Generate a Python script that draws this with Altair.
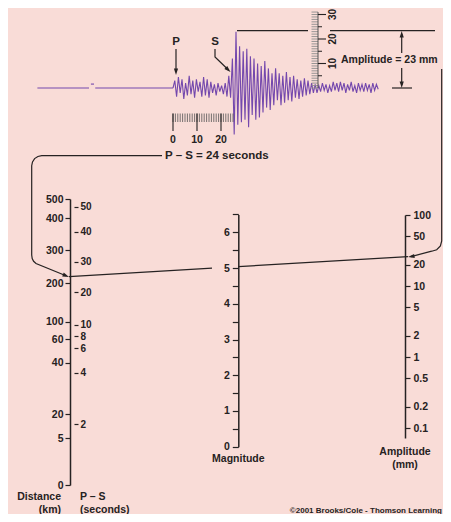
import altair as alt
import pandas as pd

# ---------------------------------------------------------------- data
# seismogram: sampling interval (s) and ground motion (mm) from the P arrival on
trace_dt = 0.75
trace_mm = [0, 3, -3.5, 4.5, -2, 3.5, -4.5, 2, -3, 5, -2.5, 3, -4, 3.5, -1.5, 2.5, -3.5, 4.5, -3, 3.5,
            -4, 2.5, -2, 1.5, -3, 2, -1.5, 1, -2.5, 2, -3.5, 5, -4, 12, -19, 23, -15, 17, -14, 15,
            -13, 16, -16, 13, -11, 12, -13, 10, -12, 9, -10, 11, -8, 8, -9, 6, -7, 8, -5, 6,
            -7, 5, -6, 6.5, -5, 4.5, -5.5, 5, -4, 3.5, -4.5, 3, -3.5, 4, -3, 3, -2.5, 2, -2, 1.5,
            -2, 1, -1.5, 2, -1, 1.5, -2, 1, -1.5, 2.5, -1, 2, -1.5, 2.5, -1, 2, -2, 1.5, -1, 2.5,
            -1.5, 1, -2, 2, -1, 1.5, -1.5, 2, -1, 1.5, -2, 2, -1, 1.5, -0.5]
# quiet trace before the P arrival (start s, end s, level mm)
quiet_start = [-56.5, -34.2, -32.4]
quiet_end = [-35.0, -32.9, 0.0]
quiet_mm = [0.0, 1.6, 0.0]

# rulers drawn on the record
time_ruler_s = list(range(0, 26))
time_ruler_major = [0, 10, 20]
amp_ruler_mm = list(range(0, 32))
amp_ruler_mid = [5, 15, 25]
amp_ruler_major = [10, 20, 30]

# nomogram scales (value -> where it is printed on the picture)
dist_km = [0, 5, 20, 40, 60, 100, 200, 300, 400, 500]
dist_at = [485, 438.3, 414.3, 362.7, 339.3, 321.7, 283.3, 250, 218.3, 199]
ps_sec = [2, 4, 6, 8, 10, 20, 30, 40, 50]
ps_at = [424.3, 372.7, 348, 336.2, 324.5, 292.3, 261.7, 231.7, 206.7]
mag_ticks = [0, 0.5, 1, 1.5, 2, 2.5, 3, 3.5, 4, 4.5, 5, 5.5, 6, 6.5]
amp_ticks = [0.1, 0.2, 0.5, 1, 2, 5, 10, 20, 50, 100]

labels = {
    "p": "P", "s": "S",
    "amp": "Amplitude = 23 mm",
    "ps": "P \u2013 S = 24 seconds",
    "dist1": "Distance", "dist2": "(km)",
    "pst1": "P \u2013 S", "pst2": "(seconds)",
    "mag": "Magnitude",
    "ampt1": "Amplitude", "ampt2": "(mm)",
    "copy": "\u00a92001 Brooks/Cole - Thomson Learning",
}

# ---------------------------------------------------------------- layout
OX, OY = 8, 8
W, H = 435, 506
FONT = "Liberation Sans"
INK = "#262222"
TRACE = "#7448ad"
BG = "#f9dcd7"
T0, PX_S = 173, 2.4          # time scale of the record
BASE, PX_MM = 88, 2.45       # amplitude scale of the record


def sx():
    return alt.Scale(domain=[OX, OX + W], range=[0, W], nice=False, zero=False)


def sy():
    return alt.Scale(domain=[OY, OY + H], range=[0, H], nice=False, zero=False)


def st():
    return alt.Scale(domain=[0, 100], range=[T0 - OX, T0 + 100 * PX_S - OX], nice=False, zero=False)


def smm():
    return alt.Scale(domain=[0, 30], range=[BASE - OY, BASE - 30 * PX_MM - OY], nice=False, zero=False)


def note(txt, x, y, size=10.5, align="center", angle=0):
    return alt.Chart(pd.DataFrame({"label": [txt]})).mark_text(
        font=FONT, fontWeight="bold", fontSize=size, color=INK, align=align,
        baseline="middle", angle=angle).encode(
        x=alt.value(x - OX), y=alt.value(y - OY), text="label:N")


def axis(orient, at_x, values, tick=5, pad=2, domain=True, fmt=None, expr=None, size=10.5):
    off = -(at_x - OX) if orient == "left" else (at_x - OX) - W
    kw = dict(orient=orient, offset=off, values=values, title=None, grid=False,
              domain=domain, domainColor=INK, domainWidth=1.5,
              tickColor=INK, tickWidth=1.2, tickSize=tick,
              labelFont=FONT, labelFontWeight="bold", labelFontSize=size,
              labelColor=INK, labelPadding=pad, labelOverlap=False,
              labelBound=False, labelFlush=False)
    if fmt:
        kw["format"] = fmt
    if expr:
        kw["labelExpr"] = expr
    return alt.Axis(**kw)


layers = []

# ---- seismogram
rows = []
for i, (a, b, m) in enumerate(zip(quiet_start, quiet_end, quiet_mm)):
    rows += [dict(seg=f"q{i}", t=a, mm=m), dict(seg=f"q{i}", t=b, mm=m)]
rows += [dict(seg="trace", t=round(i * trace_dt, 3), mm=v) for i, v in enumerate(trace_mm)]
layers.append(alt.Chart(pd.DataFrame(rows)).mark_line(color=TRACE, strokeWidth=1.1).encode(
    x=alt.X("t:Q", scale=st(), axis=None),
    y=alt.Y("mm:Q", scale=smm(), axis=None),
    detail="seg:N", order="t:Q"))

# ---- time ruler
layers.append(alt.Chart(pd.DataFrame({"s": time_ruler_s})).mark_rule(color="#555", strokeWidth=0.8).encode(
    x=alt.X("s:Q", scale=st(), axis=None), y=alt.value(113.5 - OY), y2=alt.value(122 - OY)))
layers.append(alt.Chart(pd.DataFrame({"s": time_ruler_major})).mark_rule(color=INK, strokeWidth=1.1).encode(
    x=alt.X("s:Q", scale=st(), axis=None), y=alt.value(113.5 - OY), y2=alt.value(131 - OY)))
layers.append(alt.Chart(pd.DataFrame({"s": time_ruler_major})).mark_text(
    font=FONT, fontWeight="bold", fontSize=10.5, color=INK, baseline="middle").encode(
    x=alt.X("s:Q", scale=st(), axis=None), y=alt.value(140 - OY), text="s:Q"))

# ---- amplitude ruler
layers.append(alt.Chart(pd.DataFrame({"mm": amp_ruler_mm})).mark_rule(color="#8c8c8c", strokeWidth=0.9).encode(
    y=alt.Y("mm:Q", scale=smm(), axis=None), x=alt.value(311.5 - OX), x2=alt.value(318 - OX)))
layers.append(alt.Chart(pd.DataFrame({"lo": [0], "hi": [31]})).mark_rule(color="#555", strokeWidth=1).encode(
    y=alt.Y("lo:Q", scale=smm(), axis=None), y2="hi:Q", x=alt.value(318 - OX)))
layers.append(alt.Chart(pd.DataFrame({"mm": amp_ruler_mid})).mark_rule(color=INK, strokeWidth=1).encode(
    y=alt.Y("mm:Q", scale=smm(), axis=None), x=alt.value(318 - OX), x2=alt.value(322 - OX)))
layers.append(alt.Chart(pd.DataFrame({"mm": amp_ruler_major})).mark_rule(color=INK, strokeWidth=1.1).encode(
    y=alt.Y("mm:Q", scale=smm(), axis=None), x=alt.value(318 - OX), x2=alt.value(326 - OX)))
layers.append(alt.Chart(pd.DataFrame({"mm": amp_ruler_major})).mark_text(
    font=FONT, fontWeight="bold", fontSize=10, color=INK, baseline="middle", angle=270).encode(
    y=alt.Y("mm:Q", scale=smm(), axis=None), x=alt.value(333 - OX), text="mm:Q"))

# ---- nomogram axes
layers.append(alt.Chart(pd.DataFrame({"d": dist_km})).mark_tick(opacity=0).encode(
    y=alt.Y("d:Q", scale=alt.Scale(domain=dist_km, range=[p - OY for p in dist_at], nice=False, zero=False),
            axis=axis("left", 70, dist_km, tick=5, pad=2))))
layers.append(alt.Chart(pd.DataFrame({"p": ps_sec})).mark_tick(opacity=0).encode(
    y=alt.Y("p:Q", scale=alt.Scale(domain=ps_sec, range=[p - OY for p in ps_at], nice=False, zero=False),
            axis=axis("right", 74, ps_sec, tick=4, pad=2, domain=False, size=10))))
layers.append(alt.Chart(pd.DataFrame({"m": mag_ticks})).mark_tick(opacity=0).encode(
    y=alt.Y("m:Q", scale=alt.Scale(domain=[0, 6.5], range=[446.7 - OY, 446.7 - 6.5 * 35.73 - OY],
                                   nice=False, zero=False),
            axis=axis("left", 238.3, mag_ticks, tick=6, pad=3,
                      expr="datum.value % 1 == 0 ? format(datum.value, 'd') : ''"))))
layers.append(alt.Chart(pd.DataFrame({"a": amp_ticks})).mark_tick(opacity=0).encode(
    y=alt.Y("a:Q", scale=alt.Scale(type="log", domain=[0.0724, 100], range=[438 - OY, 215 - OY],
                                   nice=False, zero=False),
            axis=axis("right", 405, amp_ticks, tick=5, pad=3, fmt="~g"))))

# ---- annotation lines
paths = {
    "p": [(176, 49), (176, 71)],
    "s": [(215, 49), (215, 57), (228.5, 70)],
    "top1": [(237, 30.7), (308, 30.7)],
    "top2": [(330, 30.7), (435, 30.7)],
    "bot": [(392, 88), (412, 88)],
    "up": [(401.7, 34), (401.7, 53)],
    "dn": [(401.7, 68), (401.7, 85)],
    "amplead": [(441.7, 69), (441.7, 241), (440.4, 246), (436.7, 249.7), (431.7, 251.2), (411, 256.6)],
    "pslead": [(162, 155.7), (41.7, 155.7), (37.9, 156.5), (34.6, 158.6), (32.5, 161.9), (31.7, 165.7),
               (31.7, 255), (32.2, 258.5), (33.6, 261.3), (36, 263.5), (66, 275.7)],
    "nomo1": [(69, 276.6), (212, 268.2)],
    "nomo2": [(238.3, 266.6), (408, 256.7)],
}
prow = []
for name, pts in paths.items():
    for k, (x, y) in enumerate(pts):
        prow.append(dict(path=name, k=k, x=x, y=y))
layers.append(alt.Chart(pd.DataFrame(prow)).mark_line(color=INK, strokeWidth=1.2).encode(
    x=alt.X("x:Q", scale=sx(), axis=None), y=alt.Y("y:Q", scale=sy(), axis=None),
    detail="path:N", order="k:Q"))

ARROW = "M0,0L-0.32,1L0.32,1Z"
heads = pd.DataFrame({
    "x": [176, 230.5, 401.7, 401.7, 69, 408],
    "y": [75, 72, 31, 88, 277, 257],
    "ang": [180, 134, 0, 180, 112, 261],
})
layers.append(alt.Chart(heads).mark_point(shape=ARROW, filled=True, size=170, color=INK, opacity=1).encode(
    x=alt.X("x:Q", scale=sx(), axis=None), y=alt.Y("y:Q", scale=sy(), axis=None),
    angle=alt.Angle("ang:Q", scale=None)))

# ---- texts
layers += [
    note(labels["p"], 176, 42, 11.5),
    note(labels["s"], 215, 42, 11.5),
    note(labels["amp"], 341, 60, 10.5, "left"),
    note(labels["ps"], 165, 155.5, 11.5, "left"),
    note(labels["dist1"], 61, 497, 10.5, "right"),
    note(labels["dist2"], 61, 509.5, 10.5, "right"),
    note(labels["pst1"], 80, 497, 10.5, "left"),
    note(labels["pst2"], 80, 509.5, 10.5, "left"),
    note(labels["mag"], 238.3, 459, 10.5),
    note(labels["ampt1"], 405, 452, 10.5),
    note(labels["ampt2"], 405, 465, 10.5),
    note(labels["copy"], 442, 510.5, 8, "right"),
]

chart = alt.layer(*layers).resolve_scale(x="independent", y="independent").properties(
    width=W, height=H, padding=0, background=BG,
    autosize=alt.AutoSizeParams(type="none"),
).configure_view(stroke=None)

chart.save("out.html", embed_options={"renderer": "svg", "actions": False})
